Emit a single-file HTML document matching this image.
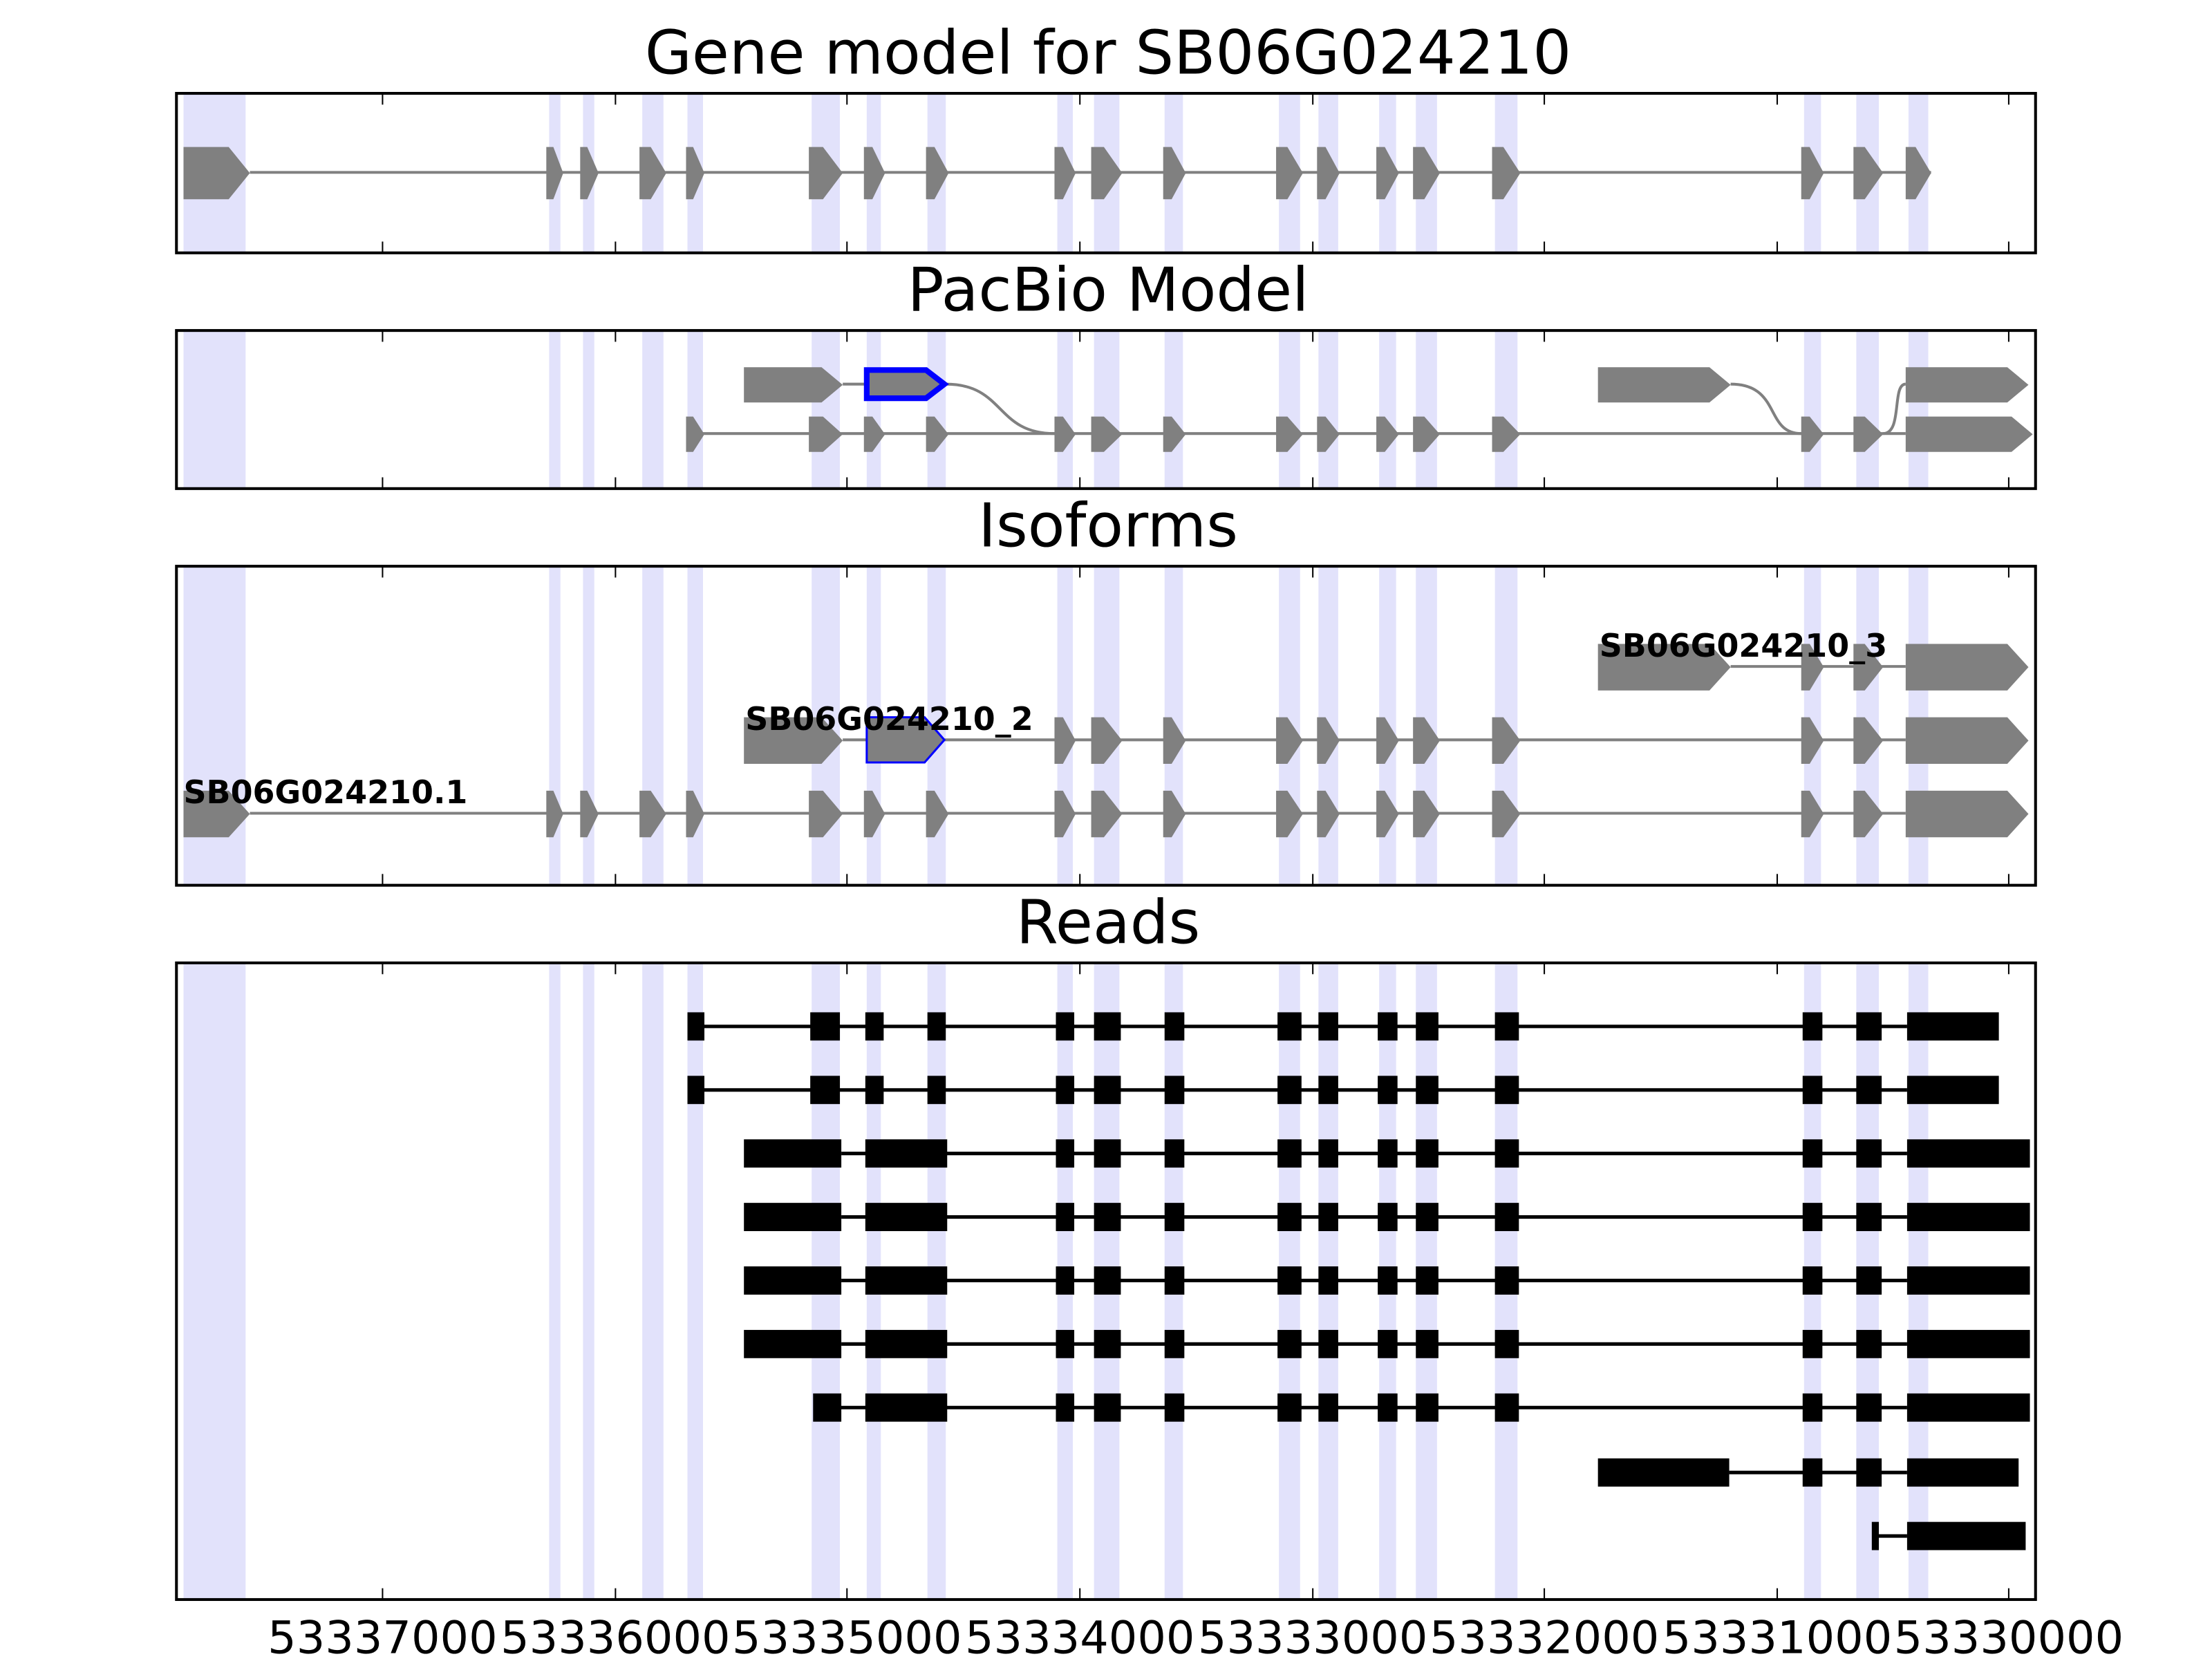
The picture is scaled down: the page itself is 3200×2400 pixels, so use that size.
<!DOCTYPE html>
<html><head><meta charset="utf-8"><style>html,body{margin:0;padding:0;background:#fff}svg{display:block}</style></head>
<body>
<svg width="3200" height="2400" viewBox="0 0 1567 1175" xmlns="http://www.w3.org/2000/svg" xmlns:xlink="http://www.w3.org/1999/xlink">
<defs>
<g id="bands" fill="#e2e2fb">
<rect x="130" y="0" width="44" height="1"/><rect x="389" y="0" width="8" height="1"/><rect x="413" y="0" width="8" height="1"/>
<rect x="455" y="0" width="15" height="1"/><rect x="487" y="0" width="11" height="1"/><rect x="575" y="0" width="20" height="1"/>
<rect x="614" y="0" width="10" height="1"/><rect x="657" y="0" width="13" height="1"/><rect x="749" y="0" width="11" height="1"/>
<rect x="775" y="0" width="18" height="1"/><rect x="825" y="0" width="13" height="1"/><rect x="906" y="0" width="15" height="1"/>
<rect x="934" y="0" width="14" height="1"/><rect x="977" y="0" width="12" height="1"/><rect x="1003" y="0" width="15" height="1"/>
<rect x="1059" y="0" width="16" height="1"/><rect x="1278" y="0" width="12" height="1"/><rect x="1315" y="0" width="16" height="1"/>
<rect x="1352" y="0" width="14" height="1"/>
</g>
<g id="E1a" fill="#808080">
<polygon points="130,0 162,0 177,.5 162,1 130,1"/><polygon points="387,0 392,0 399,.5 392,1 387,1"/>
<polygon points="411,0 416,0 424,.5 416,1 411,1"/><polygon points="453,0 461,0 472,.5 461,1 453,1"/>
</g>
<g id="E1b" fill="#808080"><polygon points="486,0 491,0 499,.5 491,1 486,1"/></g>
<g id="E2" fill="#808080">
<polygon points="573,0 583,0 597,.5 583,1 573,1"/><polygon points="612,0 618,0 627,.5 618,1 612,1"/><polygon points="656,0 662,0 672,.5 662,1 656,1"/>
</g>
<g id="E3" fill="#808080">
<polygon points="747,0 753,0 762,.5 753,1 747,1"/><polygon points="773,0 782,0 795,.5 782,1 773,1"/>
<polygon points="824,0 830,0 840,.5 830,1 824,1"/><polygon points="904,0 912,0 923,.5 912,1 904,1"/>
<polygon points="933,0 939,0 949,.5 939,1 933,1"/><polygon points="975,0 981,0 991,.5 981,1 975,1"/>
<polygon points="1001,0 1009,0 1020,.5 1009,1 1001,1"/><polygon points="1057,0 1065,0 1077,.5 1065,1 1057,1"/>
<polygon points="1276,0 1282,0 1292,.5 1282,1 1276,1"/><polygon points="1313,0 1321,0 1334,.5 1321,1 1313,1"/>
</g>
<g id="ticks" stroke="#000" stroke-width="1">
<line x1="271" y1="0" x2="271" y2="8"/><line x1="436" y1="0" x2="436" y2="8"/><line x1="600" y1="0" x2="600" y2="8"/><line x1="765" y1="0" x2="765" y2="8"/>
<line x1="930" y1="0" x2="930" y2="8"/><line x1="1094" y1="0" x2="1094" y2="8"/><line x1="1259" y1="0" x2="1259" y2="8"/><line x1="1423" y1="0" x2="1423" y2="8"/>
</g>
<g id="RM" fill="#000">
<rect x="748" y="-10" width="13" height="20"/><rect x="775" y="-10" width="19" height="20"/><rect x="825" y="-10" width="14" height="20"/>
<rect x="905" y="-10" width="17" height="20"/><rect x="934" y="-10" width="14" height="20"/><rect x="976" y="-10" width="14" height="20"/>
<rect x="1003" y="-10" width="16" height="20"/><rect x="1059" y="-10" width="17" height="20"/><rect x="1277" y="-10" width="14" height="20"/>
<rect x="1315" y="-10" width="18" height="20"/>
</g>
<g id="RE" fill="#000">
<rect x="574" y="-10" width="21" height="20"/><rect x="613" y="-10" width="13" height="20"/><rect x="657" y="-10" width="13" height="20"/>
</g>
</defs>

<g font-family="'DejaVu Sans','Liberation Sans',sans-serif" fill="#000" text-anchor="middle">
<text x="785" y="52" font-size="43">Gene model for SB06G024210</text>
<text x="785" y="220" font-size="43">PacBio Model</text>
<text x="785" y="387" font-size="43">Isoforms</text>
<text x="785" y="668" font-size="43">Reads</text>
<g font-size="32">
<text x="271" y="1171">53337000</text><text x="436" y="1171">53336000</text><text x="600" y="1171">53335000</text><text x="765" y="1171">53334000</text>
<text x="930" y="1171">53333000</text><text x="1094" y="1171">53332000</text><text x="1259" y="1171">53331000</text><text x="1423" y="1171">53330000</text>
</g>
</g>

<!-- Panel 1 -->
<use xlink:href="#bands" transform="translate(0,66) scale(1,113)"/>
<line x1="177" y1="122" x2="1368" y2="122" stroke="#808080" stroke-width="2"/>
<g transform="translate(0,104) scale(1,37)">
<use xlink:href="#E1a"/><use xlink:href="#E1b"/><use xlink:href="#E2"/><use xlink:href="#E3"/>
<polygon points="1350,0 1357,0 1368,.5 1357,1 1350,1" fill="#808080"/>
</g>

<!-- Panel 2 -->
<use xlink:href="#bands" transform="translate(0,234) scale(1,112)"/>
<line x1="597" y1="272" x2="614" y2="272" stroke="#808080" stroke-width="2"/>
<line x1="487" y1="307" x2="1350" y2="307" stroke="#808080" stroke-width="2"/>
<path d="M670,272 C712,272 705,307 747,307" fill="none" stroke="#808080" stroke-width="2"/>
<path d="M1226,272 C1262,272 1250,307 1276,307" fill="none" stroke="#808080" stroke-width="2"/>
<path d="M1334,307 C1348,307 1340,272 1350,272" fill="none" stroke="#808080" stroke-width="2"/>
<g transform="translate(0,260) scale(1,25)" fill="#808080">
<polygon points="527,0 582,0 597,.5 582,1 527,1"/>
<polygon points="1132,0 1211,0 1226,.5 1211,1 1132,1"/>
<polygon points="1350,0 1422,0 1437,.5 1422,1 1350,1"/>
</g>
<polygon points="614,262 656,262 669,272 656,282 614,282" fill="#808080" stroke="#0000ff" stroke-width="4"/>
<g transform="translate(0,295) scale(1,25)">
<use xlink:href="#E1b"/><use xlink:href="#E2"/><use xlink:href="#E3"/>
<polygon points="1350,0 1425,0 1440,.5 1425,1 1350,1" fill="#808080"/>
</g>

<!-- Panel 3 -->
<use xlink:href="#bands" transform="translate(0,401) scale(1,226)"/>
<line x1="1226" y1="472" x2="1350" y2="472" stroke="#808080" stroke-width="2"/>
<line x1="597" y1="524" x2="1350" y2="524" stroke="#808080" stroke-width="2"/>
<line x1="177" y1="576" x2="1350" y2="576" stroke="#808080" stroke-width="2"/>
<g transform="translate(0,456) scale(1,33)" fill="#808080">
<polygon points="1132,0 1211,0 1226,.5 1211,1 1132,1"/>
<polygon points="1276,0 1282,0 1292,.5 1282,1 1276,1"/><polygon points="1313,0 1321,0 1334,.5 1321,1 1313,1"/>
<polygon points="1350,0 1422,0 1437,.5 1422,1 1350,1"/>
</g>
<g transform="translate(0,508) scale(1,33)" fill="#808080">
<polygon points="527,0 582,0 597,.5 582,1 527,1"/>
<use xlink:href="#E3"/>
<polygon points="1350,0 1422,0 1437,.5 1422,1 1350,1"/>
</g>
<polygon points="614,508 655,508 669,524 655,540 614,540" fill="#808080" stroke="#0000ff" stroke-width="1.5"/>
<g transform="translate(0,560) scale(1,33)">
<use xlink:href="#E1a"/><use xlink:href="#E1b"/><use xlink:href="#E2"/><use xlink:href="#E3"/>
<polygon points="1350,0 1422,0 1437,.5 1422,1 1350,1" fill="#808080"/>
</g>
<g font-family="'DejaVu Sans','Liberation Sans',sans-serif" font-weight="bold" font-size="22.5" fill="#000">
<text x="1133" y="465">SB06G024210_3</text>
<text x="528" y="517">SB06G024210_2</text>
<text x="130" y="569">SB06G024210.1</text>
</g>

<!-- Panel 4 -->
<use xlink:href="#bands" transform="translate(0,682) scale(1,451)"/>
<g stroke="#000" stroke-width="2.5">
<line x1="490" y1="727" x2="1351" y2="727"/><line x1="490" y1="772" x2="1351" y2="772"/>
<line x1="596" y1="817" x2="1351" y2="817"/><line x1="596" y1="862" x2="1351" y2="862"/>
<line x1="596" y1="907" x2="1351" y2="907"/><line x1="596" y1="952" x2="1351" y2="952"/>
<line x1="590" y1="997" x2="1351" y2="997"/><line x1="1225" y1="1043" x2="1351" y2="1043"/>
<line x1="1329" y1="1088" x2="1351" y2="1088"/>
</g>
<g transform="translate(0,727)"><rect x="487" y="-10" width="12" height="20"/><use xlink:href="#RE"/><use xlink:href="#RM"/><rect x="1351" y="-10" width="65" height="20"/></g>
<g transform="translate(0,772)"><rect x="487" y="-10" width="12" height="20"/><use xlink:href="#RE"/><use xlink:href="#RM"/><rect x="1351" y="-10" width="65" height="20"/></g>
<g transform="translate(0,817)"><rect x="527" y="-10" width="69" height="20"/><rect x="613" y="-10" width="58" height="20"/><use xlink:href="#RM"/><rect x="1351" y="-10" width="87" height="20"/></g>
<g transform="translate(0,862)"><rect x="527" y="-10" width="69" height="20"/><rect x="613" y="-10" width="58" height="20"/><use xlink:href="#RM"/><rect x="1351" y="-10" width="87" height="20"/></g>
<g transform="translate(0,907)"><rect x="527" y="-10" width="69" height="20"/><rect x="613" y="-10" width="58" height="20"/><use xlink:href="#RM"/><rect x="1351" y="-10" width="87" height="20"/></g>
<g transform="translate(0,952)"><rect x="527" y="-10" width="69" height="20"/><rect x="613" y="-10" width="58" height="20"/><use xlink:href="#RM"/><rect x="1351" y="-10" width="87" height="20"/></g>
<g transform="translate(0,997)"><rect x="576" y="-10" width="20" height="20"/><rect x="613" y="-10" width="58" height="20"/><use xlink:href="#RM"/><rect x="1351" y="-10" width="87" height="20"/></g>
<g transform="translate(0,1043)"><rect x="1132" y="-10" width="93" height="20"/><rect x="1277" y="-10" width="14" height="20"/><rect x="1315" y="-10" width="18" height="20"/><rect x="1351" y="-10" width="79" height="20"/></g>
<g transform="translate(0,1088)"><rect x="1326" y="-10" width="5" height="20"/><rect x="1351" y="-10" width="84" height="20"/></g>

<!-- Frames and ticks -->
<g fill="none" stroke="#000" stroke-width="2">
<rect x="125" y="66" width="1317" height="113"/>
<rect x="125" y="234" width="1317" height="112"/>
<rect x="125" y="401" width="1317" height="226"/>
<rect x="125" y="682" width="1317" height="451"/>
</g>
<use xlink:href="#ticks" transform="translate(0,66)"/><use xlink:href="#ticks" transform="translate(0,179) scale(1,-1)"/>
<use xlink:href="#ticks" transform="translate(0,234)"/><use xlink:href="#ticks" transform="translate(0,346) scale(1,-1)"/>
<use xlink:href="#ticks" transform="translate(0,401)"/><use xlink:href="#ticks" transform="translate(0,627) scale(1,-1)"/>
<use xlink:href="#ticks" transform="translate(0,682)"/><use xlink:href="#ticks" transform="translate(0,1133) scale(1,-1)"/>
</svg>
</body></html>
